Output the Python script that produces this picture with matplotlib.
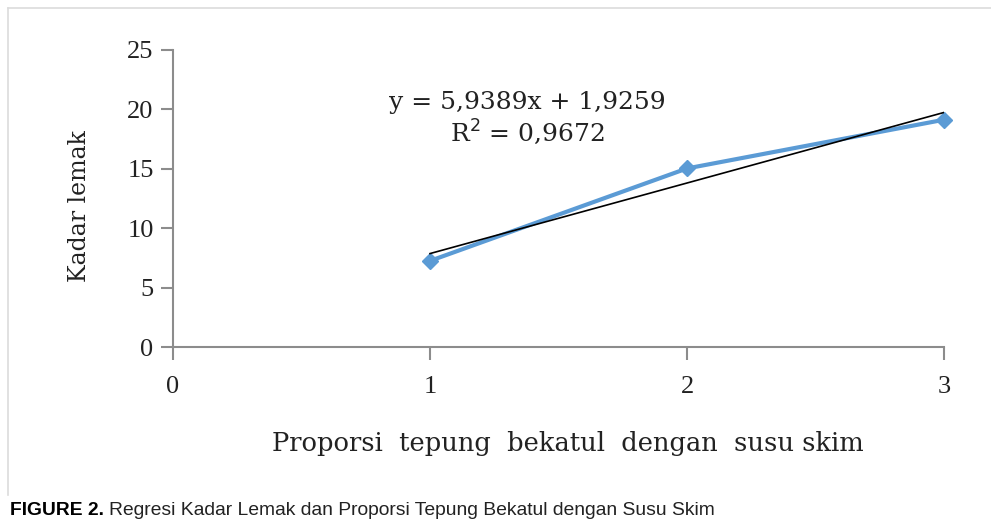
import numpy as np
import matplotlib.pyplot as plt
from matplotlib.lines import Line2D

# Fat content against bran flour : skim milk proportion
proporsi = [1, 2, 3]
kadar_lemak = [7.25, 15.03, 19.13]

# Linear trendline coefficients as reported on the chart
slope = 5.9389
intercept = 1.9259
r_squared = 0.9672

x_ticks = [0, 1, 2, 3]
y_ticks = [0, 5, 10, 15, 20, 25]

serif = 'DejaVu Serif'
axis_grey = '#8c8c8c'
text_col = '#222222'

fig = plt.figure(figsize=(9.91, 5.23), dpi=100)
ax = fig.add_axes([173 / 991, 176 / 523, 771 / 991, 297 / 523])

# light frame lines (left and top) around the chart area
frame_x = 7.5 / 991
frame_top = 1 - 7.5 / 523
frame_bottom = 28 / 523
fig.lines.append(Line2D([frame_x, frame_x], [frame_bottom, frame_top],
                        transform=fig.transFigure, color='#dcdcdc', lw=1.2))
fig.lines.append(Line2D([frame_x, 1.0], [frame_top, frame_top],
                        transform=fig.transFigure, color='#dcdcdc', lw=1.2))

ax.plot(proporsi, kadar_lemak, color='#5b9bd5', linewidth=3,
        marker='D', markersize=8, zorder=3, clip_on=False)

trend_x = np.array([proporsi[0], proporsi[-1]])
ax.plot(trend_x, slope * trend_x + intercept, color='black',
        linewidth=1.2, zorder=4)

ax.set_xlim(0, 3)
ax.set_ylim(0, 25)
ax.set_xticks(x_ticks)
ax.set_yticks(y_ticks)

for side in ['top', 'right']:
    ax.spines[side].set_visible(False)
for side in ['left', 'bottom']:
    ax.spines[side].set_color(axis_grey)
    ax.spines[side].set_linewidth(1.5)

ax.tick_params(axis='both', direction='out', length=9, width=1.5,
               color=axis_grey, labelsize=19, labelcolor=text_col)
ax.tick_params(axis='x', pad=12)
ax.tick_params(axis='y', pad=5)
for lbl in ax.get_xticklabels() + ax.get_yticklabels():
    lbl.set_family('Liberation Serif')

ax.set_ylabel('Kadar lemak', family=serif, fontsize=17, color=text_col,
              labelpad=26)
ax.yaxis.label.set_y(0.473)
ax.set_xlabel('Proporsi  tepung  bekatul  dengan  susu skim', family=serif,
              fontsize=18.5, color=text_col, labelpad=24)
ax.xaxis.label.set_x(0.512)

eq_text = ('y = {:.4f}x + {:.4f}'.format(slope, intercept)).replace('.', ',')
r2_text = ('R$^2$ = {:.4f}'.format(r_squared)).replace('.', ',')
ax.text(1.38, 20.0, eq_text, family=serif, fontsize=18, ha='center',
        va='baseline', color=text_col)
ax.text(1.38, 17.3, r2_text, family=serif, fontsize=18, ha='center',
        va='baseline', color=text_col)

# caption: bold figure number followed by regular title
cap_y = 8 / 523
bold = fig.text(10 / 991, cap_y, 'FIGURE 2.', family='Liberation Sans',
                weight='bold', fontsize=13.9, color='black')
fig.canvas.draw()
bb = bold.get_window_extent()
fig.text((bb.x1 + 5) / 991, cap_y,
         'Regresi Kadar Lemak dan Proporsi Tepung Bekatul dengan Susu Skim',
         family='Liberation Sans', fontsize=13.9, color=text_col)

fig.savefig('out.png', dpi=100)
